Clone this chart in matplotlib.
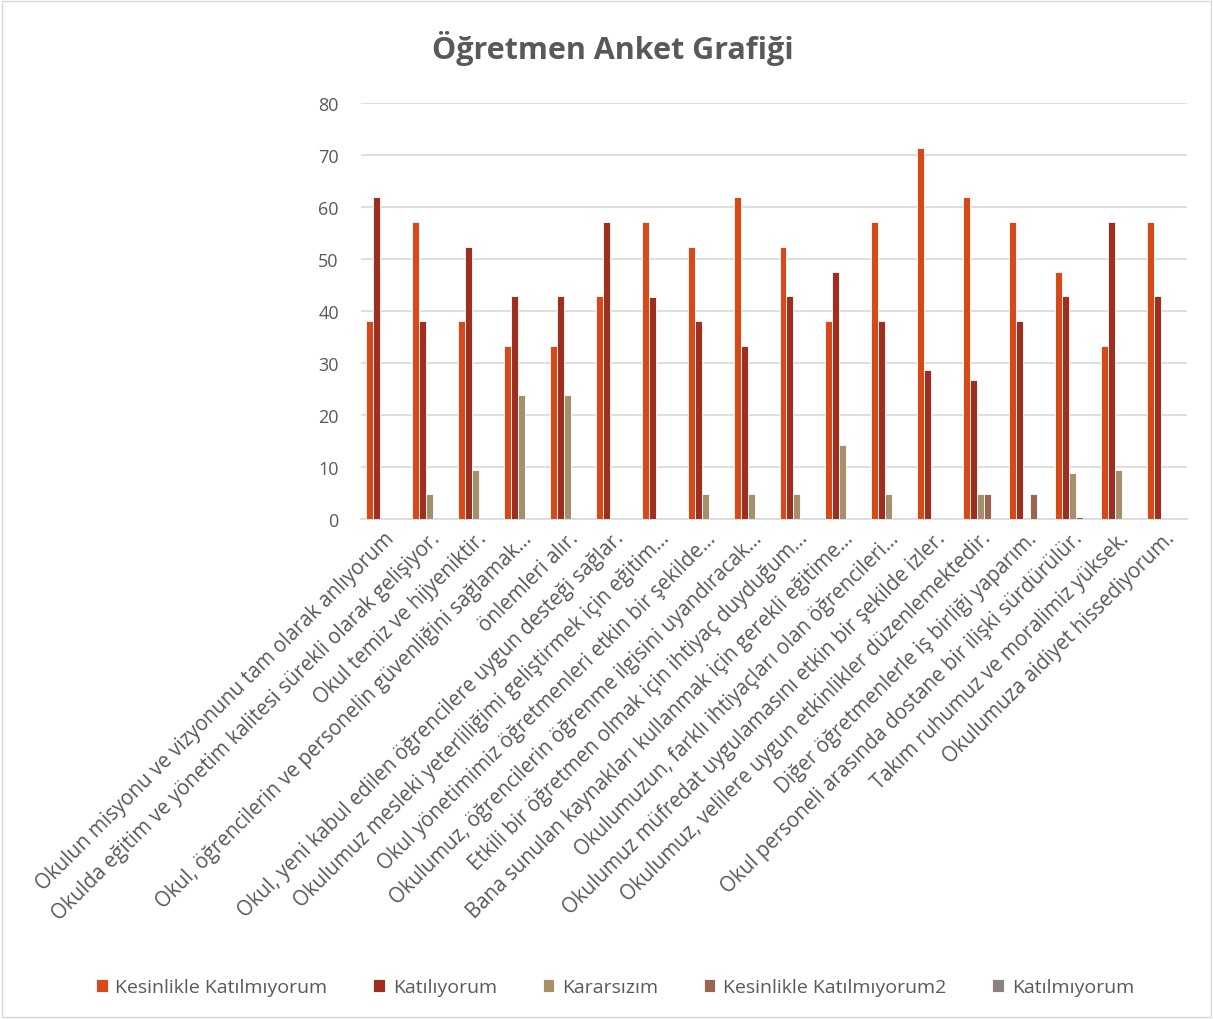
import numpy as np
import matplotlib.pyplot as plt
from matplotlib.patches import Rectangle

plt.rcParams['font.family'] = ['Open Sans', 'DejaVu Sans']

questions = [
    "Okulun misyonu ve vizyonunu tam olarak anlıyorum",
    "Okulda eğitim ve yönetim kalitesi sürekli olarak gelişiyor.",
    "Okul temiz ve hijyeniktir.",
    "Okul, öğrencilerin ve personelin güvenliğini sağlamak…",
    "önlemleri alır.",
    "Okul, yeni kabul edilen öğrencilere uygun desteği sağlar.",
    "Okulumuz mesleki yeterliliğimi geliştirmek için eğitim…",
    "Okul yönetimimiz öğretmenleri etkin bir şekilde…",
    "Okulumuz, öğrencilerin öğrenme ilgisini uyandıracak…",
    "Etkili bir öğretmen olmak için ihtiyaç duyduğum…",
    "Bana sunulan kaynakları kullanmak için gerekli eğitime…",
    "Okulumuzun, farklı ihtiyaçları olan öğrencileri…",
    "Okulumuz müfredat uygulamasını etkin bir şekilde izler.",
    "Okulumuz, velilere uygun etkinlikler düzenlemektedir.",
    "Diğer öğretmenlerle iş birliği yaparım.",
    "Okul personeli arasında dostane bir ilişki sürdürülür.",
    "Takım ruhumuz ve moralimiz yüksek.",
    "Okulumuza aidiyet hissediyorum.",
]

series_names = ["Kesinlikle Katılmıyorum", "Katılıyorum", "Kararsızım",
                "Kesinlikle Katılmıyorum2", "Katılmıyorum"]

kesinlikle = [38.1, 57.1, 38.1, 33.3, 33.3, 42.9, 57.1, 52.4, 61.9, 52.4,
              38.1, 57.1, 71.4, 61.9, 57.1, 47.6, 33.3, 57.1]
katiliyorum = [61.9, 38.1, 52.4, 42.9, 42.9, 57.1, 42.8, 38.1, 33.3, 42.9,
               47.6, 38.1, 28.6, 26.7, 38.1, 42.9, 57.1, 42.9]
kararsizim = [0, 4.8, 9.5, 23.8, 23.8, 0, 0, 4.8, 4.8, 4.8,
              14.3, 4.8, 0, 4.8, 0, 8.8, 9.5, 0]
kesinlikle2 = [0, 0, 0, 0, 0, 0, 0, 0, 0, 0,
               0, 0, 0, 4.8, 4.8, 0.4, 0, 0]
katilmiyorum = [0] * 18

values = [kesinlikle, katiliyorum, kararsizim, kesinlikle2, katilmiyorum]
colors = ["#D64A19", "#9E2E20", "#A68F6B", "#9C6351", "#8C8080"]

fig = plt.figure(figsize=(12.13, 10.2), dpi=100)
ax = fig.add_axes([0.2976, 0.49, 0.681, 0.408])

x = np.arange(len(questions))
w = 0.152
for i, (vals, c, name) in enumerate(zip(values, colors, series_names)):
    ax.bar(x + (i - 2) * w, vals, width=w, color=c, edgecolor='white',
           linewidth=0.6, label=name, zorder=3)

ax.set_ylim(0, 80)
ax.set_xlim(-0.5, len(questions) - 0.5)
ax.set_yticks(range(0, 81, 10))
ax.yaxis.grid(True, color='#D9D9D9', linewidth=1.2, zorder=0)
for s in ['top', 'right', 'left']:
    ax.spines[s].set_visible(False)
ax.spines['bottom'].set_color('#D9D9D9')
ax.spines['bottom'].set_linewidth(1.2)
ax.tick_params(axis='both', length=0, colors='#595959', labelsize=13)
ax.tick_params(axis='y', pad=16)
ax.tick_params(axis='x', pad=6)
ax.set_xticks(x)
ax.set_xticklabels(questions, rotation=45, ha='right', rotation_mode='anchor',
                   fontsize=14.8, color='#595959')

fig.text(0.505, 0.952, "Öğretmen Anket Grafiği", ha='center', va='center',
         fontsize=22, fontweight='bold', color='#595959')

leg = fig.legend(loc='center', bbox_to_anchor=(0.507, 0.031), ncol=5,
                 frameon=False, fontsize=14, handlelength=0.6, handleheight=0.6,
                 handletextpad=0.4, columnspacing=2.35)
for t in leg.get_texts():
    t.set_color('#595959')

fig.patches.append(Rectangle((0.002, 0.002), 0.996, 0.996, transform=fig.transFigure,
                             fill=False, edgecolor='#D9D9D9', linewidth=1))

fig.savefig('out.png', dpi=100)
